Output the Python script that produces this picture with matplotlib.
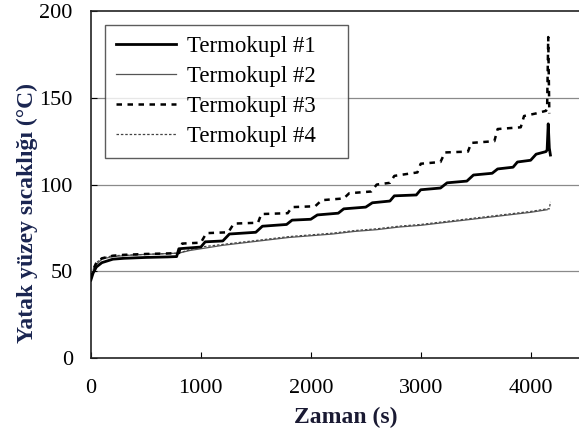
import matplotlib
matplotlib.use("Agg")
import matplotlib.pyplot as plt

plt.rcParams['font.family'] = ['Liberation Serif', 'DejaVu Serif']

# Thermocouple readings: time (s) and bed surface temperature (°C)
t1 = [0, 20, 50, 100, 200, 300, 500, 700, 780, 800, 1000, 1040, 1200, 1260, 1500, 1560,
      1780, 1830, 2000, 2060, 2250, 2300, 2500, 2560, 2720, 2760, 2960, 3000, 3180, 3240,
      3420, 3480, 3650, 3700, 3840, 3880, 4000, 4050, 4140, 4150, 4160, 4170, 4180]
T1 = [45, 49, 52.5, 55, 57, 57.5, 58, 58.3, 58.5, 63, 64, 67, 67.5, 71.5, 72.5, 76,
      77, 79.5, 80, 82.5, 83.5, 86, 87, 89.5, 90.5, 93.5, 94, 97, 98, 101,
      102, 105.5, 106.5, 109, 110, 113, 114, 117.5, 119, 120, 135, 121, 117]

t2 = [0, 20, 50, 100, 200, 400, 600, 800, 900, 1000, 1200, 1400, 1600, 1800, 2000, 2200,
      2400, 2600, 2800, 3000, 3200, 3400, 3600, 3800, 4000, 4150]
T2 = [45, 50, 54, 57, 58.5, 59.5, 60, 60.5, 62, 63, 65, 66.5, 68, 69.5, 70.5, 71.5,
      73, 74, 75.5, 76.5, 78, 79.5, 81, 82.5, 84, 85.5]

t3 = [0, 20, 50, 100, 200, 300, 500, 700, 800, 830, 1000, 1050, 1250, 1300, 1520, 1550,
      1790, 1830, 2040, 2100, 2300, 2350, 2550, 2600, 2720, 2760, 2970, 3000, 3180, 3220,
      3430, 3460, 3670, 3700, 3910, 3940, 4050, 4140, 4150, 4160, 4170]
T3 = [46, 51, 55, 57.5, 59, 59.5, 60, 60.3, 60.5, 66, 66.5, 72, 72.5, 77.5, 78, 83,
      83.5, 87, 87.5, 91, 92, 95, 96, 100, 101, 105, 107, 112, 113, 118.5,
      119, 124, 125, 132, 133, 139.5, 141, 142.5, 144, 185, 141]

t4 = [0, 20, 50, 100, 200, 400, 600, 800, 900, 1000, 1200, 1400, 1600, 1800, 2000, 2200,
      2400, 2600, 2800, 3000, 3200, 3400, 3600, 3800, 4000, 4150, 4170, 4180]
T4 = [46, 51, 55, 57.5, 59, 59.5, 60, 60.5, 62.5, 64, 65.5, 67, 68.5, 70, 71, 72,
      73.5, 74.5, 76, 77, 78.5, 80, 81.5, 83, 84.5, 86, 86, 90]

labels = ['Termokupl #1', 'Termokupl #2', 'Termokupl #3', 'Termokupl #4']
x_ticks = [0, 1000, 2000, 3000, 4000]
y_ticks = [0, 50, 100, 150, 200]

fig = plt.figure(figsize=(5.79, 4.41), dpi=100)
ax = fig.add_axes([0.157, 0.188, 0.843, 0.787])

for yv in y_ticks[1:-1]:
    ax.axhline(yv, color='#8a8a8a', lw=0.9, zorder=1)

ax.plot(t1, T1, color='black', lw=2.0, label=labels[0], zorder=4)
ax.plot(t2, T2, color='#555555', lw=0.9, label=labels[1], zorder=3)
ax.plot(t3, T3, color='black', lw=1.8, ls=(0, (2.2, 2.2)), label=labels[2], zorder=4)
ax.plot(t4, T4, color='#444444', lw=0.9, ls=(0, (2, 1.5)), label=labels[3], zorder=3)

ax.set_xlim(0, 4440)
ax.set_ylim(0, 200)
ax.set_xticks(x_ticks)
ax.set_yticks(y_ticks)
ax.tick_params(direction='in', length=4, width=0.8, labelsize=16, colors='black')
ax.tick_params(axis='y', pad=13)
ax.tick_params(axis='x', pad=15)
for sp in ax.spines.values():
    sp.set_linewidth(1.2)
    sp.set_color('#222222')
ax.spines['right'].set_visible(False)

ax.set_xlabel('Zaman (s)', fontsize=17, fontweight='bold', color='#1a1a33')
ax.xaxis.set_label_coords(0.523, -0.14)
ax.set_ylabel('Yatak yüzey sıcaklığı (°C)', fontsize=17, fontweight='bold', color='#1a2550')
ax.yaxis.set_label_coords(-0.109, 0.418)

leg = ax.legend(loc='upper left', bbox_to_anchor=(0.0287, 0.0, 0.498, 0.96), mode='expand',
                borderaxespad=0, fontsize=16.5, handlelength=2.6, handletextpad=0.48,
                labelspacing=0.38, frameon=True, fancybox=False, edgecolor='#333333',
                borderpad=0.5)
leg.get_frame().set_linewidth(1.0)

fig.savefig('out.png', dpi=100)
